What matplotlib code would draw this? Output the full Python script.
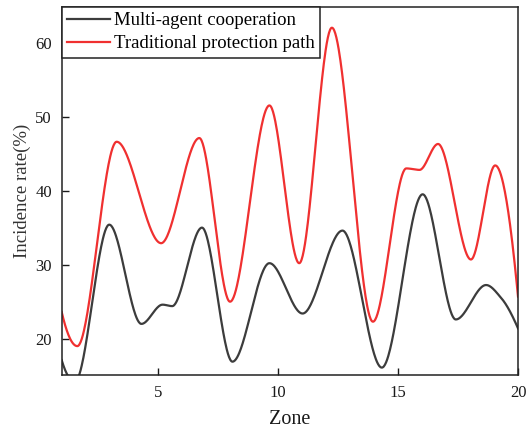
import numpy as np
import matplotlib
matplotlib.use("Agg")
import matplotlib.pyplot as plt

# points (turning points + a few shoulders)
multi_x = [1.0, 1.55, 2.98, 4.32, 5.2, 5.6, 6.84, 8.11, 9.65, 11.03, 12.69, 14.33, 16.03, 17.41, 18.67, 19.3, 20.0]
multi_y = [17.2, 14.3, 35.5, 22.1, 24.7, 24.5, 35.1, 17.0, 30.3, 23.5, 34.7, 16.2, 39.6, 22.7, 27.35, 25.6, 21.5]

trad_x = [1.0, 1.65, 3.29, 5.14, 6.73, 8.01, 9.65, 10.89, 12.25, 13.96, 15.35, 15.9, 16.67, 18.04, 19.05, 20.0]
trad_y = [23.7, 19.1, 46.7, 33.0, 47.2, 25.1, 51.6, 30.3, 62.1, 22.4, 43.1, 42.9, 46.4, 30.8, 43.5, 25.8]

labels = ["Multi-agent cooperation", "Traditional protection path"]
colors = ["#3c3c3c", "#f03030"]
xticks = [5, 10, 15, 20]
yticks = [20, 30, 40, 50, 60]


def pchip(x, y, xs):
    # monotone cubic hermite, just for drawing a smooth line
    x = np.asarray(x, float)
    y = np.asarray(y, float)
    h = np.diff(x)
    delta = np.diff(y) / h
    n = len(x)
    d = np.zeros(n)
    for k in range(1, n - 1):
        if delta[k - 1] * delta[k] > 0:
            w1 = 2 * h[k] + h[k - 1]
            w2 = h[k] + 2 * h[k - 1]
            d[k] = (w1 + w2) / (w1 / delta[k - 1] + w2 / delta[k])

    def end(h0, h1, d0, d1):
        v = ((2 * h0 + h1) * d0 - h0 * d1) / (h0 + h1)
        if np.sign(v) != np.sign(d0):
            return 0.0
        if np.sign(d0) != np.sign(d1) and abs(v) > abs(3 * d0):
            return 3 * d0
        return v

    d[0] = end(h[0], h[1], delta[0], delta[1])
    d[-1] = end(h[-1], h[-2], delta[-1], delta[-2])

    idx = np.clip(np.searchsorted(x, xs) - 1, 0, n - 2)
    t = (xs - x[idx]) / h[idx]
    h00 = 2 * t**3 - 3 * t**2 + 1
    h10 = t**3 - 2 * t**2 + t
    h01 = -2 * t**3 + 3 * t**2
    h11 = t**3 - t**2
    return h00 * y[idx] + h10 * h[idx] * d[idx] + h01 * y[idx + 1] + h11 * h[idx] * d[idx + 1]


plt.rcParams["font.family"] = ["Liberation Serif", "DejaVu Serif"]

fig = plt.figure(figsize=(5.26, 4.29), dpi=100)
ax = fig.add_axes([0.1173, 0.1259, 0.8675, 0.8578])

xs = np.linspace(1, 20, 800)
ax.plot(xs, pchip(multi_x, multi_y, xs), color=colors[0], lw=1.6, label=labels[0])
ax.plot(xs, pchip(trad_x, trad_y, xs), color=colors[1], lw=1.6, label=labels[1])

ax.set_xlim(1, 20)
ax.set_ylim(15.2, 64.9)
ax.set_xticks(xticks)
ax.set_yticks(yticks)
ax.tick_params(direction="in", length=5, width=1, pad=7, labelsize=12, colors="#1a1a1a")
for s in ax.spines.values():
    s.set_linewidth(1.1)
    s.set_color("#222222")

ax.set_xlabel("Zone", fontsize=14.5, labelpad=7, color="#1a1a1a")
ax.set_ylabel("Incidence rate(%)", fontsize=13.5, labelpad=3, color="#333333")

leg = ax.legend(loc="upper left", borderaxespad=0, fontsize=13.5, handlelength=2.3,
                handletextpad=0.2, labelspacing=0.32, borderpad=0.28, fancybox=False,
                framealpha=1, edgecolor="#222222")
leg.get_frame().set_linewidth(1.1)

fig.savefig("out.png", dpi=100)
